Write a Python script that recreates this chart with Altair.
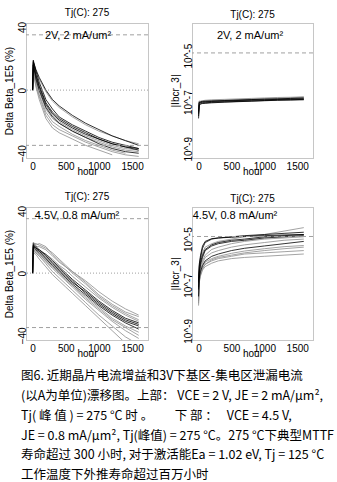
import altair as alt
import pandas as pd

SANS = "Liberation Sans"
CJK = "Noto Sans CJK SC"
GRAY = "#8c8c8c"

# ---------------- shared labels / ticks ----------------
x_ticks = [0, 500, 1000, 1500]
beta_ticks = [-40, -20, 0, 20, 40]
leak_ticks = [1e-9, 1e-7, 1e-5]
beta_limits = [-35, 35]
beta_zero = [0]
leak_limit = [1.3e-5]
panel_title = "Tj(C): 275"
top_label = "2V, 2 mA/um\u00b2"
bottom_label = "4.5V, 0.8 mA/um\u00b2"

# ---------------- top-left: Delta Beta (%) , 2V 2 mA/um2 ----------------
tl_hours = [0, 10, 50, 100, 200, 300, 400, 600, 800, 1000, 1200, 1400, 1600]
tl_a = [0, 17, 12, 7, -1, -7, -11, -17, -22, -26, -29, -32, -34]
tl_b = [0, 18, 13, 8, 0, -6, -10, -16, -21, -25, -29, -32, -35]
tl_c = [0, 16, 9, 2, -9, -15, -19, -24, -28, -31, -34, -36, -37]
tl_d = [0, 15, 8, 1, -10, -16, -20, -25, -29, -32, -35, -37, -38]
tl_e = [0, 18, 10, 3, -8, -14, -18, -23, -27, -31, -34, -36, -38]
tl_f = [0, 14, 6, -1, -12, -18, -21, -26, -30, -33, -36, -38, -39]
tl_g = [0, 16, 7, 0, -11, -17, -21, -26, -30, -34, -37, -39, -40]
tl_h = [0, 12, 3, -4, -16, -22, -25, -29, -33, -36, -39, -41, -42]
tl_i = [0, 13, 5, -3, -14, -20, -23, -28, -32, -35, -38, -40]
tl_j = [0, 11, 2, -6, -18, -24, -27, -31, -35, -38, -41]
tl_k = [0, 19, 12, 5, -6, -12, -17, -22, -26, -30, -33, -35, -37]
tl_gray = [tl_a, tl_d, tl_f, tl_h, tl_i, tl_j]
tl_black = [tl_b, tl_c, tl_e, tl_g, tl_k]

# ---------------- top-right: |Ibcr_3| (log10 A), 2V 2 mA/um2 ----------------
tr_hours = [0, 10, 30, 60, 100, 200, 400, 600, 800, 1000, 1200, 1400, 1600]
tr_1 = [-7.6, -7.05, -6.98, -6.97, -6.96, -6.95, -6.93, -6.91, -6.89, -6.87, -6.86, -6.84, -6.82]
tr_2 = [-7.4, -7.0, -7.02, -7.0, -6.99, -6.97, -6.95, -6.93, -6.91, -6.9, -6.88, -6.87, -6.86]
tr_3 = [-7.2, -6.95, -6.97, -6.95, -6.94, -6.93, -6.91, -6.89, -6.87, -6.85, -6.83, -6.81, -6.79]
tr_4 = [-7.5, -7.1, -7.05, -7.04, -7.03, -7.01, -6.99, -6.97, -6.95, -6.93, -6.91, -6.9, -6.88]
tr_5 = [-7.3, -6.98, -7.0, -6.99, -6.98, -6.96, -6.94, -6.92, -6.9, -6.88, -6.86, -6.85, -6.84]
tr_6 = [-7.7, -7.15, -7.08, -7.06, -7.05, -7.03, -7.0, -6.98, -6.96, -6.94, -6.92, -6.91, -6.9]
tr_7 = [-7.1, -6.97, -6.96, -6.94, -6.92, -6.9, -6.88, -6.86, -6.84, -6.82, -6.8, -6.79, -6.77]
tr_8 = [-7.45, -7.05, -7.03, -7.02, -7.0, -6.98, -6.96, -6.94, -6.92, -6.91, -6.89, -6.88, -6.87]
tr_gray = [tr_3, tr_5, tr_7, tr_8]
tr_black = [tr_1, tr_2, tr_4, tr_6]

# ---------------- bottom-left: Delta Beta (%), 4.5V 0.8 mA/um2 ----------------
bl_hours = [0, 10, 50, 100, 200, 300, 400, 500, 600, 800, 1000, 1200, 1400, 1600]
bl_1 = [0, 18, 17, 17, 15, 11, 7, 4, 1, -6, -14, -20, -25, -28]
bl_2 = [0, 16, 15, 14, 12, 9, 5, 2, -2, -9, -16, -22, -27, -31]
bl_3 = [0, 20, 18, 19, 17, 12, 8, 4, 0, -7, -15, -21, -26, -30]
bl_4 = [0, 17, 15, 13, 9, 5, 1, -3, -7, -14, -21, -27, -32, -36]
bl_5 = [0, 15, 13, 11, 7, 3, -1, -5, -9, -17, -24, -31, -37, -42]
bl_6 = [0, 18, 16, 14, 10, 6, 2, -2, -6, -12, -19, -25, -30, -33]
bl_7 = [0, 14, 13, 11, 6, 1, -3, -7, -11, -19, -27, -34, -41, -46]
bl_8 = [0, 19, 19, 18, 16, 13, 9, 5, 1, -5, -12, -18, -23, -27]
bl_9 = [0, 13, 12, 9, 4, -1, -5, -9, -13, -21, -29, -37, -45]
bl_10 = [0, 16, 14, 12, 8, 4, 0, -4, -8, -15, -22, -29, -34, -38]
bl_11 = [0, 17, 16, 15, 12, 8, 4, 0, -4, -11, -18, -24, -29, -32]
bl_12 = [0, 19, 17, 15, 11, 7, 3, -1, -5, -13, -20, -26, -31, -34]
bl_13 = [0, 15, 14, 12, 8, 4, 0, -4, -8, -16, -23, -30, -35, -40]
bl_gray = [bl_1, bl_2, bl_3, bl_5, bl_7, bl_8, bl_9, bl_10, bl_13]
bl_black = [bl_4, bl_6, bl_11, bl_12]

# ---------------- bottom-right: |Ibcr_3| (log10 A), 4.5V 0.8 mA/um2 ----------------
br_hours = [0, 10, 30, 60, 100, 200, 300, 500, 700, 1000, 1300, 1600]
br_1 = [-6.8, -6.2, -5.8, -5.4, -5.15, -5.0, -4.95, -4.9, -4.85, -4.8, -4.75, -4.7]
br_2 = [-7.2, -6.5, -6.1, -5.8, -5.5, -5.3, -5.2, -5.1, -5.05, -4.95, -4.9, -4.85]
br_3 = [-7.0, -6.3, -5.9, -5.6, -5.35, -5.2, -5.1, -5.0, -4.9, -4.8, -4.65, -4.5]
br_4 = [-7.9, -6.9, -6.6, -6.35, -6.2, -6.05, -5.95, -5.85, -5.8, -5.75, -5.7, -5.65]
br_5 = [-7.5, -6.7, -6.4, -6.15, -5.95, -5.75, -5.65, -5.5, -5.4, -5.3, -5.2, -5.1]
br_6 = [-7.3, -6.6, -6.3, -6.05, -5.8, -5.6, -5.5, -5.35, -5.25, -5.15, -5.05, -5.0]
br_7 = [-7.7, -6.8, -6.55, -6.3, -6.1, -5.9, -5.8, -5.7, -5.6, -5.5, -5.42, -5.35]
br_8 = [-7.1, -6.4, -6.0, -5.7, -5.45, -5.25, -5.15, -5.05, -5.0, -4.9, -4.85, -4.8]
br_9 = [-7.6, -6.75, -6.45, -6.25, -6.1, -5.95, -5.85, -5.75, -5.65, -5.6, -5.55, -5.5]
br_10 = [-7.4, -6.6, -6.2, -5.95, -5.7, -5.45, -5.35, -5.2, -5.1, -5.0, -4.95, -4.9]
br_11 = [-6.9, -6.1, -5.7, -5.3, -5.1, -4.98, -4.95, -4.92, -4.88, -4.85, -4.82, -4.8]
br_12 = [-7.8, -6.85, -6.5, -6.2, -6.0, -5.85, -5.75, -5.62, -5.52, -5.42, -5.33, -5.28]
br_gray = [br_3, br_4, br_6, br_7, br_9, br_10, br_12]
br_black = [br_1, br_2, br_5, br_8, br_11]

# ---------------- caption ----------------
caption_lines = [
    "图6.  近期晶片电流增益和3V下基区-集电区泄漏电流",
    "(以A为单位)漂移图。上部： VCE = 2 V, JE = 2 mA/μm²,",
    "Tj( 峰 值 ) = 275 °C 时 。　　 下 部 ：　 VCE = 4.5 V,",
    "JE = 0.8 mA/μm², Tj(峰值) = 275 °C。275 °C下典型MTTF",
    "寿命超过 300 小时, 对于激活能Ea = 1.02 eV, Tj = 125 °C",
    "工作温度下外推寿命超过百万小时",
]
caption_offsets = [169, 189, 209, 229, 248, 268]  # line centres below the lower-left panel top


def long_frame(hours, curves, log=False):
    rows = []
    for i, vals in enumerate(curves):
        for h, v in zip(hours, vals):
            rows.append({"hour": h, "value": 10 ** v if log else v, "curve": i})
    return pd.DataFrame(rows)


def x_enc():
    return alt.X(
        "hour:Q",
        scale=alt.Scale(domain=[-100, 1740], nice=False, zero=False),
        axis=alt.Axis(values=x_ticks, format="d", title="hour", labelFontSize=10, titleFontSize=10,
                      titleFontWeight="normal", titlePadding=-5, labelPadding=3,
                      ticks=False, domain=False, grid=False, labelFlush=False),
    )


def beta_y():
    return alt.Y(
        "value:Q",
        scale=alt.Scale(domain=[-43, 42.5], nice=False, zero=False),
        axis=alt.Axis(values=beta_ticks, title="Delta Beta_1E5 (%)", labelAngle=270,
                      labelAlign="center", labelBaseline="alphabetic", labelPadding=1,
                      labelFontSize=10, titleFontSize=10, titleFontWeight="normal",
                      titlePadding=3, ticks=False, domain=False, grid=False),
    )


def leak_y():
    return alt.Y(
        "value:Q",
        scale=alt.Scale(type="log", domain=[10 ** -9.4, 10 ** -3.6], nice=False),
        axis=alt.Axis(values=leak_ticks, title="|Ibcr_3|", labelAngle=270,
                      labelAlign="center", labelBaseline="alphabetic", labelPadding=1,
                      labelExpr="'10^' + round(log(datum.value) / LN10)",
                      labelFontSize=10, titleFontSize=10, titleFontWeight="normal",
                      titlePadding=3, ticks=False, domain=False, grid=False),
    )


def panel(hours, gray, black, log, label, label_x, label_y, width, height, extra=()):
    yenc = leak_y() if log else beta_y()
    gray_lines = alt.Chart(long_frame(hours, gray, log)).mark_line(
        clip=True, strokeWidth=0.8, color=GRAY
    ).encode(x=x_enc(), y=yenc, detail="curve:N")
    black_lines = alt.Chart(long_frame(hours, black, log)).mark_line(
        clip=True, strokeWidth=0.8, color="black"
    ).encode(x=x_enc(), y=yenc, detail="curve:N")
    limits = leak_limit if log else beta_limits
    dashed = alt.Chart(pd.DataFrame({"value": limits})).mark_rule(
        color="#a0a0a0", strokeDash=[4, 3], strokeWidth=1
    ).encode(y="value:Q")
    layers = [gray_lines, black_lines, dashed]
    if not log:
        zero = alt.Chart(pd.DataFrame({"value": beta_zero})).mark_rule(
            color="#a0a0a0", strokeDash=[1, 2], strokeWidth=1
        ).encode(y="value:Q")
        layers.append(zero)
    text = alt.Chart(pd.DataFrame({"t": [label]})).mark_text(
        font=SANS, fontSize=11, color="black", align="center", baseline="middle"
    ).encode(x=alt.value(label_x), y=alt.value(label_y), text="t:N")
    layers.append(text)
    layers.extend(extra)
    return alt.layer(*layers).properties(
        width=width, height=height,
        title=alt.Title(panel_title, fontSize=10, fontWeight="normal", font=SANS, offset=3),
    )


caption_layers = [
    alt.Chart(pd.DataFrame({"t": [line]})).mark_text(
        align="left", baseline="middle", font=CJK, fontSize=12.5, color="black"
    ).encode(x=alt.value(-5), y=alt.value(off), text="t:N")
    for line, off in zip(caption_lines, caption_offsets)
]

tl = panel(tl_hours, tl_gray, tl_black, False, top_label, 52, 13, 122, 135)
tr = panel(tr_hours, tr_gray, tr_black, True, top_label, 58, 13, 121, 135)
bl = panel(bl_hours, bl_gray, bl_black, False, bottom_label, 51, 9, 122, 133, caption_layers)
br = panel(br_hours, br_gray, br_black, True, bottom_label, 43, 9, 121, 133)

chart = alt.concat(
    tl, tr, bl, br, columns=2, spacing={"row": 49, "column": 44}, bounds="flush"
).properties(
    padding={"left": 3, "top": 7, "right": 0, "bottom": 0},
    autosize=alt.AutoSizeParams(type="pad"),
    background="white",
).configure_view(
    stroke=GRAY, strokeDash=[1, 1]
).configure_axis(
    labelFont=SANS, titleFont=SANS, labelColor="black", titleColor="black"
)

chart.save("out.html", embed_options={"renderer": "svg", "actions": False})
